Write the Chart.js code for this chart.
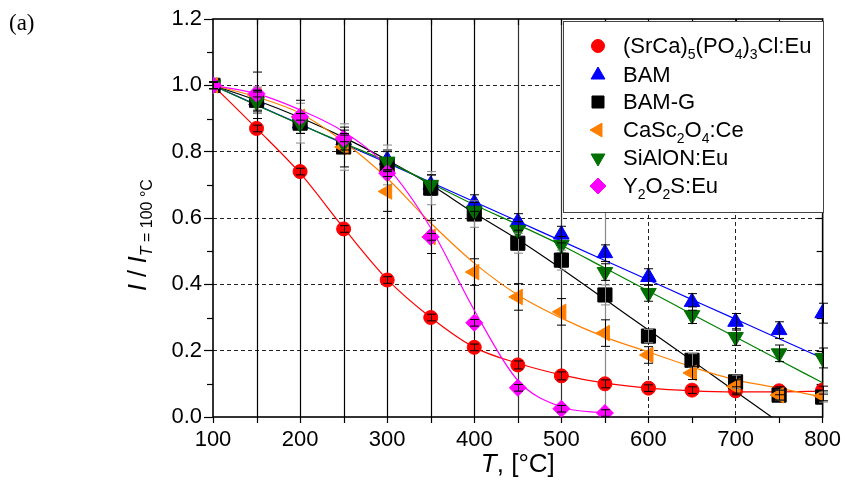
<!DOCTYPE html>
<html>
<head>
<meta charset="utf-8">
<script src="https://cdn.jsdelivr.net/npm/chart.js@4/dist/chart.umd.min.js"></script>
<style>
  html, body { margin: 0; padding: 0; background: #fff; }
  #wrap { position: relative; width: 845px; height: 482px; }
</style>
</head>
<body>
<div id="wrap"><canvas id="c" width="845" height="482"></canvas></div>
<script>
// ---------- data ----------
const temps = [100,150,200,250,300,350,400,450,500,550,600,650,700,750,800];
const tempsY2O2S = [100,150,200,250,300,350,400,450,500,550];

const seriesNames = [
  [{t:'(SrCa)'},{t:'5',sub:1},{t:'(PO'},{t:'4',sub:1},{t:')'},{t:'3',sub:1},{t:'Cl:Eu'}],
  [{t:'BAM'}],
  [{t:'BAM-G'}],
  [{t:'CaSc'},{t:'2',sub:1},{t:'O'},{t:'4',sub:1},{t:':Ce'}],
  [{t:'SiAlON:Eu'}],
  [{t:'Y'},{t:'2',sub:1},{t:'O'},{t:'2',sub:1},{t:'S:Eu'}]
];

// measured points
const srcaPts   = [1.0,0.87,0.74,0.567,0.413,0.30,0.21,0.157,0.124,0.10,0.087,0.081,0.079,0.079,0.081];
const bamPts    = [1.0,0.955,0.885,0.835,0.775,0.70,0.645,0.588,0.55,0.494,0.422,0.347,0.287,0.262,0.313];
const bamgPts   = [1.0,0.955,0.886,0.814,0.76,0.69,0.612,0.524,0.473,0.368,0.244,0.171,0.106,0.066,0.06];
const casc2Pts  = [1.0,0.97,0.905,0.814,0.68,0.543,0.437,0.362,0.317,0.253,0.187,0.133,0.092,0.066,0.064];
const sialonPts = [1.0,0.95,0.885,0.825,0.77,0.70,0.622,0.564,0.519,0.437,0.374,0.307,0.241,0.192,0.178];
const y2o2sPts  = [1.0,0.975,0.905,0.84,0.735,0.543,0.284,0.088,0.025,0.012];

// error bar half-widths
const srcaErr   = [0.01,0.01,0.01,0.01,0.01,0.01,0.01,0.012,0.012,0.012,0.01,0.01,0.012,0.012,0.012];
const bamErr    = [0.01,0.03,0.03,0.03,0.03,0.03,0.025,0.025,0.025,0.025,0.025,0.025,0.025,0.025,0.03];
const bamgErr   = [0.01,0.04,0.06,0.07,0.06,0.05,0.04,0.03,0.03,0.03,0.02,0.02,0.02,0.015,0.015];
const casc2Err  = [0.01,0.07,0.05,0.06,0.06,0.05,0.04,0.04,0.04,0.04,0.025,0.02,0.02,0.015,0.015];
const sialonErr = [0.01,0.03,0.03,0.03,0.03,0.03,0.025,0.025,0.025,0.025,0.025,0.025,0.025,0.025,0.03];
const y2o2sErr  = [0.01,0.01,0.01,0.01,0.01,0.01,0.01,0.01,0.01,0.01];

// fitted curves
const srcaFit   = [1.0,0.87,0.735,0.57,0.415,0.30,0.21,0.162,0.127,0.102,0.087,0.079,0.076,0.076,0.078];
const bamFit    = [1.0,0.941,0.883,0.824,0.766,0.708,0.649,0.59,0.531,0.472,0.413,0.354,0.295,0.236,0.177];
const bamgFit   = [1.0,0.955,0.903,0.843,0.775,0.70,0.615,0.535,0.447,0.355,0.262,0.17,0.077,-0.016,-0.108];
const casc2Fit  = [1.0,0.965,0.916,0.83,0.72,0.585,0.464,0.368,0.298,0.241,0.196,0.151,0.112,0.087,0.06];
const sialonFit = [1.0,0.94,0.882,0.826,0.77,0.705,0.64,0.58,0.518,0.449,0.38,0.31,0.241,0.172,0.103];
const y2o2sFit  = [1.0,0.975,0.926,0.86,0.754,0.57,0.322,0.11,0.03,0.012];

// full-height vertical lines seen in the figure
const vLineTemps = [150,200,250,300,350,400,450,500,550];

const xTickLabels = [100,200,300,400,500,600,700,800];
const yTickLabels = ['0.0','0.2','0.4','0.6','0.8','1.0','1.2'];

// ---------- styles ----------
const FONT = "'Liberation Sans', Arial, sans-serif";
const colors = ['#ff0000','#0000ff','#000000','#ff8000','#007000','#ff00ff'];
const lineColors = ['#ff0000','#0000ff','#000000','#ff8000','#008000','#ff00ff'];
const errColors = ['#000','#000','#888','#000','#000','#000'];
const markerStyles = [
  {style:'circle', rot:0, r:7},
  {style:'triangle', rot:0, r:9},
  {style:'rect', rot:0, r:10},
  {style:'triangle', rot:-90, r:9},
  {style:'triangle', rot:180, r:9},
  {style:'rectRot', rot:0, r:8.5}
];
const legendMarkerR = [6.5, 8, 8.5, 8, 8, 8];
const vLineColors = ['#000','#000','#000','#000','#000','#000','#333','#333','#888'];

const pts = (xs, ys) => xs.map((x,i)=>({x, y: ys[i]}));

const pointSets = [
  [temps, srcaPts, srcaErr], [temps, bamPts, bamErr], [temps, bamgPts, bamgErr],
  [temps, casc2Pts, casc2Err], [temps, sialonPts, sialonErr], [tempsY2O2S, y2o2sPts, y2o2sErr]
];
const fitSets = [
  [temps, srcaFit], [temps, bamFit], [temps, bamgFit], [temps, casc2Fit], [temps, sialonFit], [tempsY2O2S, y2o2sFit]
];

const datasets = [];
pointSets.forEach((s, i) => {
  datasets.push({
    type: 'scatter',
    label: 'pts' + i,
    data: pts(s[0], s[1]),
    errs: s[2],
    errColor: errColors[i],
    showLine: false,
    pointStyle: markerStyles[i].style,
    rotation: markerStyles[i].rot,
    pointRadius: markerStyles[i].r,
    pointBackgroundColor: colors[i],
    pointBorderColor: colors[i],
    pointBorderWidth: 1,
    order: 20 - i
  });
});
fitSets.forEach((s, i) => {
  datasets.push({
    type: 'line',
    label: 'fit' + i,
    data: pts(s[0], s[1]),
    borderColor: lineColors[i],
    borderWidth: 1.2,
    pointRadius: 0,
    fill: false,
    cubicInterpolationMode: 'monotone',
    order: 40 - i
  });
});

// ---------- helpers ----------
function richWidth(ctx, segs, size, subSize) {
  let w = 0;
  segs.forEach(s => {
    ctx.font = (s.it ? 'italic ' : '') + (s.sub ? subSize : size) + 'px ' + FONT;
    w += ctx.measureText(s.t).width;
  });
  return w;
}
function drawRich(ctx, segs, x, y, size, subSize, subOff) {
  let cx = x;
  segs.forEach(s => {
    ctx.font = (s.it ? 'italic ' : '') + (s.sub ? subSize : size) + 'px ' + FONT;
    ctx.fillText(s.t, cx, s.sub ? y + subOff : y);
    cx += ctx.measureText(s.t).width;
  });
  return cx;
}

const decorPlugin = {
  id: 'decor',
  beforeDatasetsDraw(chart) {
    const {ctx, chartArea: a, scales: {x, y}} = chart;
    ctx.save();
    // vertical full-height lines
    vLineTemps.forEach((t, i) => {
      const px = Math.round(x.getPixelForValue(t)) + 0.5;
      ctx.strokeStyle = vLineColors[i];
      ctx.lineWidth = 1.2;
      ctx.beginPath(); ctx.moveTo(px, a.top); ctx.lineTo(px, a.bottom); ctx.stroke();
    });
    // minor ticks
    ctx.strokeStyle = '#000';
    ctx.lineWidth = 1.2;
    for (let v = 0.1; v < 1.2; v += 0.2) {
      const py = Math.round(y.getPixelForValue(v)) + 0.5;
      ctx.beginPath(); ctx.moveTo(a.left - 6, py); ctx.lineTo(a.left, py); ctx.stroke();
    }
    for (let v = 0.1; v < 1.2; v += 0.1) {
      const py = Math.round(y.getPixelForValue(v)) + 0.5;
      ctx.beginPath(); ctx.moveTo(a.right - 6, py); ctx.lineTo(a.right, py); ctx.stroke();
    }
    for (let t = 150; t < 800; t += 100) {
      const px = Math.round(x.getPixelForValue(t)) + 0.5;
      ctx.beginPath(); ctx.moveTo(px, a.bottom); ctx.lineTo(px, a.bottom + 6); ctx.stroke();
    }
    for (let t = 150; t < 800; t += 50) {
      const px = Math.round(x.getPixelForValue(t)) + 0.5;
      ctx.beginPath(); ctx.moveTo(px, a.top); ctx.lineTo(px, a.top + 6); ctx.stroke();
    }
    // frame
    ctx.lineWidth = 1.6;
    ctx.strokeRect(a.left, a.top, a.right - a.left, a.bottom - a.top);
    ctx.restore();
  },
  afterDatasetsDraw(chart) {
    const {ctx, scales: {x, y}} = chart;
    ctx.save();
    ctx.lineWidth = 1;
    chart.data.datasets.forEach(ds => {
      if (!ds.errs) return;
      ctx.strokeStyle = ds.errColor;
      ds.data.forEach((p, i) => {
        const e = ds.errs[i];
        const px = Math.round(x.getPixelForValue(p.x)) + 0.5;
        const y1 = y.getPixelForValue(p.y + e), y2 = y.getPixelForValue(p.y - e);
        ctx.beginPath();
        ctx.moveTo(px, y1); ctx.lineTo(px, y2);
        ctx.moveTo(px - 4.5, y1); ctx.lineTo(px + 4.5, y1);
        ctx.moveTo(px - 4.5, y2); ctx.lineTo(px + 4.5, y2);
        ctx.stroke();
      });
    });
    ctx.restore();
  },
  afterDraw(chart) {
    const {ctx, chartArea: a} = chart;
    ctx.save();
    // legend box
    const lx = 563, ly = 21, lw = 260, lh = 191;
    ctx.fillStyle = '#fff';
    ctx.fillRect(lx, ly, lw, lh);
    ctx.strokeStyle = '#444';
    ctx.lineWidth = 1;
    ctx.strokeRect(lx + 0.5, ly + 0.5, lw, lh);
    const rowY = [46, 75, 102, 130, 158, 186];
    seriesNames.forEach((segs, i) => {
      const ms = markerStyles[i];
      ctx.fillStyle = colors[i];
      ctx.strokeStyle = colors[i];
      Chart.helpers.drawPoint(ctx, {pointStyle: ms.style, rotation: ms.rot, radius: legendMarkerR[i], borderWidth: 1}, 598, rowY[i]);
      ctx.fillStyle = '#000';
      ctx.textBaseline = 'alphabetic';
      drawRich(ctx, segs, 623, rowY[i] + 7, 22, 14, 6);
    });
    // x axis title
    ctx.fillStyle = '#000';
    const xt = [{t:'T', it:1}, {t:', [°C]'}];
    const xw = richWidth(ctx, xt, 26, 16);
    drawRich(ctx, xt, (a.left + a.right) / 2 - xw / 2, 472, 26, 16, 0);
    // y axis title (rotated)
    ctx.save();
    ctx.translate(146, 291);
    ctx.rotate(-Math.PI / 2);
    const yt = [{t:'I', it:1}, {t:' / '}, {t:'I', it:1}, {t:'T', it:1, sub:1}, {t:' = 100 °C', sub:1}];
    drawRich(ctx, yt, 0, 0, 25, 16, 6);
    ctx.restore();
    // panel label
    ctx.font = "23px 'Liberation Serif', 'Times New Roman', serif";
    ctx.fillText('(a)', 9, 30);
    ctx.restore();
  }
};

new Chart(document.getElementById('c'), {
  data: { datasets },
  options: {
    responsive: false,
    animation: false,
    devicePixelRatio: 1,
    layout: { padding: { left: 0, right: 21, top: 19, bottom: 0 } },
    plugins: { legend: { display: false }, tooltip: { enabled: false } },
    scales: {
      x: {
        type: 'linear', min: 100, max: 800,
        afterFit(s) { s.height = 65; },
        afterBuildTicks(s) { s.ticks = xTickLabels.map(v => ({value: v})); },
        ticks: { color: '#000', font: { family: FONT, size: 22 }, padding: 4, maxRotation: 0,
                 callback: v => String(v) },
        grid: {
          color: c => (c.tick && c.tick.value > 100 && c.tick.value < 800) ? '#222' : 'rgba(0,0,0,0)',
          lineWidth: 1, tickColor: '#000', tickLength: 6, tickWidth: 1.2, tickBorderDash: []
        },
        border: { display: false, dash: [4, 3] }
      },
      y: {
        type: 'linear', min: 0, max: 1.2,
        afterFit(s) { s.width = 213; },
        afterBuildTicks(s) { s.ticks = yTickLabels.map(v => ({value: parseFloat(v)})); },
        ticks: { color: '#000', font: { family: FONT, size: 22 }, padding: 2,
                 callback: (v, i) => yTickLabels[i] },
        grid: {
          color: c => (c.tick && c.tick.value > 0.01 && c.tick.value < 1.19) ? '#222' : 'rgba(0,0,0,0)',
          lineWidth: 1, tickColor: '#000', tickLength: 9, tickWidth: 1.2, tickBorderDash: []
        },
        border: { display: false, dash: [4, 3] }
      }
    }
  },
  plugins: [decorPlugin]
});
</script>
</body>
</html>
